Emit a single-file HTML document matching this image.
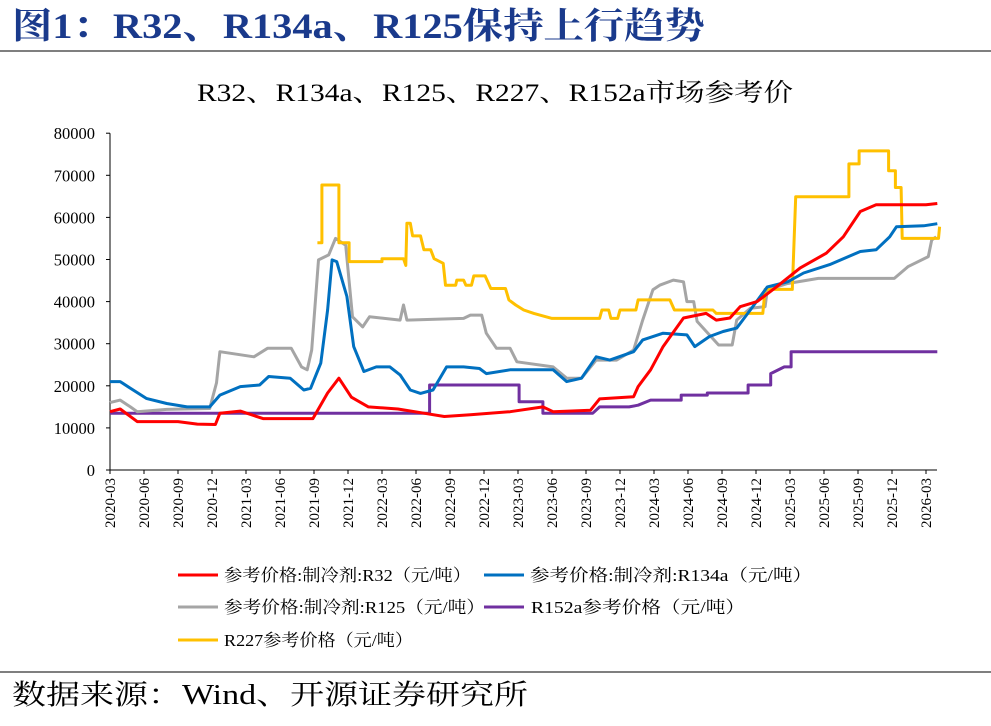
<!DOCTYPE html>
<html><head><meta charset="utf-8"><style>
body{margin:0;background:#fff;width:991px;height:721px;overflow:hidden;font-family:"Liberation Serif","Noto Serif CJK SC",serif}
</style></head><body>
<svg id="chart" width="991" height="721" xmlns="http://www.w3.org/2000/svg">
<text x="12" y="38" font-size="36" font-weight="bold" fill="#1a3a8c" textLength="693" lengthAdjust="spacingAndGlyphs" font-family="Liberation Serif, Noto Serif CJK SC, serif">图1：R32、R134a、R125保持上行趋势</text>
<line x1="0" y1="51" x2="991" y2="51" stroke="#333" stroke-width="1.2"/>
<text x="197" y="101" font-size="25" textLength="596" lengthAdjust="spacingAndGlyphs" fill="#000">R32、R134a、R125、R227、R152a市场参考价</text>
<g id="axes"></g>
<g id="series"></g>
<g id="legend" font-size="17">
<line x1="178" y1="575" x2="218" y2="575" stroke="#ff0000" stroke-width="3"/><text x="224" y="581" textLength="247" lengthAdjust="spacingAndGlyphs">参考价格:制冷剂:R32（元/吨）</text>
<line x1="484" y1="575" x2="524" y2="575" stroke="#0070c0" stroke-width="3"/><text x="530" y="581" textLength="282" lengthAdjust="spacingAndGlyphs">参考价格:制冷剂:R134a（元/吨）</text>
<line x1="178" y1="607" x2="218" y2="607" stroke="#a5a5a5" stroke-width="3"/><text x="224" y="613" textLength="261" lengthAdjust="spacingAndGlyphs">参考价格:制冷剂:R125（元/吨）</text>
<line x1="484" y1="607" x2="524" y2="607" stroke="#7030a0" stroke-width="3"/><text x="531" y="613" textLength="214" lengthAdjust="spacingAndGlyphs">R152a参考价格（元/吨）</text>
<line x1="178" y1="640" x2="218" y2="640" stroke="#ffc000" stroke-width="3"/><text x="224" y="646" textLength="189" lengthAdjust="spacingAndGlyphs">R227参考价格（元/吨）</text>
</g>
<line x1="0" y1="672" x2="991" y2="672" stroke="#333" stroke-width="1.2"/>
<text x="12" y="704" font-size="28" textLength="516" lengthAdjust="spacingAndGlyphs">数据来源：Wind、开源证券研究所</text>
</svg>
<script>
const yTicks=[0,10000,20000,30000,40000,50000,60000,70000,80000];
const xLabels=["2020-03","2020-06","2020-09","2020-12","2021-03","2021-06","2021-09","2021-12","2022-03","2022-06","2022-09","2022-12","2023-03","2023-06","2023-09","2023-12","2024-03","2024-06","2024-09","2024-12","2025-03","2025-06","2025-09","2025-12","2026-03"];
const r32=[[0,13850],[0.9,14500],[2.4,11500],[6,11500],[7.7,10900],[9.3,10800],[9.7,13500],[11.5,14000],[13.5,12200],[17.9,12200],[19.2,18300],[20.2,21800],[21.3,17300],[22.8,15000],[25.4,14500],[27.7,13500],[29.5,12700],[31.8,13100],[35.3,13850],[38.2,15000],[39.1,13850],[42.4,14200],[43.2,16900],[46.2,17400],[46.6,19800],[47.7,23800],[48.8,29300],[50.6,36100],[52.6,37200],[53.5,35600],[54.7,36100],[55.6,38800],[57.1,40000],[58.8,43500],[60.9,48000],[63.2,51500],[64.7,55400],[66.2,61400],[67.6,63000],[72,63000],[73,63300]];
const r134a=[[0,21000],[0.9,21000],[1.8,19400],[3.2,17000],[5,15800],[6.8,15000],[8.8,15000],[9.7,17800],[11.5,19800],[13.2,20200],[14,22200],[15.9,21800],[17.1,19000],[17.7,19400],[18.6,25400],[19.2,38000],[19.6,49900],[20,49500],[20.9,41200],[21.5,29300],[22.4,23400],[23.5,24500],[24.7,24500],[25.6,22600],[26.5,19000],[27.4,18200],[28.5,19000],[29.7,24500],[31.2,24500],[32.6,24100],[33.2,22900],[35.3,23800],[39.1,23800],[40.3,21000],[41.6,21800],[42.9,26900],[44.1,26100],[46.2,28100],[47,30900],[48.8,32500],[50.9,32100],[51.6,29300],[52.9,31700],[54.1,32900],[55.3,33700],[56.5,38000],[58,43500],[59.8,44700],[61.2,46800],[63.5,48800],[66.2,51900],[67.6,52300],[68.8,55400],[69.4,57800],[71.8,58000],[73,58500]];
const r125=[[0,16000],[0.9,16600],[1.8,15000],[2.4,13850],[5,14400],[8.8,14600],[9.4,20700],[9.7,28100],[12.7,26900],[13.9,28900],[16,28900],[16.9,24500],[17.4,23800],[17.8,28500],[18.4,49900],[19.3,51100],[19.9,55000],[20.8,53400],[21.4,36400],[22.3,34000],[22.9,36400],[25.6,35600],[25.9,39200],[26.2,35600],[31.2,36000],[31.8,36800],[32.8,36800],[33.2,32500],[34.1,28900],[35.3,28900],[35.9,25700],[39.1,24500],[40.3,21800],[41.6,21800],[42.9,26100],[44.7,26100],[46.2,28500],[47,35600],[47.9,42800],[48.5,43900],[49.7,45100],[50.6,44700],[50.9,40000],[51.5,40000],[51.8,35300],[53.7,29700],[54.9,29700],[55.3,35600],[56.5,38400],[57.8,38800],[58,42800],[59.8,44300],[62.5,45500],[69.2,45500],[70.4,48300],[72.2,50700],[72.5,54600],[72.9,55400]];
const r152a=[[0,13500],[28.2,13500],[28.2,20200],[36.1,20200],[36.1,16200],[38.2,16200],[38.2,13500],[42.6,13500],[43.2,15000],[45.8,15000],[46.6,15400],[47.7,16600],[50.4,16600],[50.4,17800],[52.7,17800],[52.7,18300],[56.3,18300],[56.3,20200],[58.3,20200],[58.3,22900],[59.5,24500],[60.1,24500],[60.1,28100],[73,28100]];
const r227=[[18.3,54000],[18.7,54000],[18.7,67700],[20.2,67700],[20.2,54000],[21.1,54000],[21.1,49500],[24,49500],[24,50200],[25.9,50200],[26.1,48600],[26.2,58600],[26.5,58600],[26.7,55600],[27.4,55600],[27.7,52300],[28.3,52300],[28.6,50200],[29.4,49100],[29.6,43900],[30.5,43900],[30.6,45100],[31.2,45100],[31.4,43900],[31.9,43900],[32.1,46100],[33.1,46100],[33.6,43100],[34.9,43100],[35.2,40400],[35.8,39200],[36.5,38000],[37.4,37200],[39,36000],[43.2,36000],[43.4,38000],[44,38000],[44.2,36000],[44.8,36000],[45,38000],[46.4,38000],[46.6,40400],[49.4,40400],[49.8,38000],[53.2,38000],[53.5,37200],[57.6,37200],[57.8,42900],[60.2,42900],[60.5,64900],[65.2,64900],[65.2,72700],[66.1,72700],[66.1,75800],[68.7,75800],[68.7,71100],[69.3,71100],[69.3,67100],[69.8,67100],[69.9,55000],[73.1,55000],[73.2,57800]];

const NS="http://www.w3.org/2000/svg";
const X0=110,Y0=470,PXM=34/3,PXV=42.1/10000;
const xs=m=>X0+m*PXM, ys=v=>Y0-v*PXV;
const axes=document.getElementById('axes');
function mk(tag,attrs,parent){const e=document.createElementNS(NS,tag);for(const k in attrs)e.setAttribute(k,attrs[k]);parent.appendChild(e);return e;}
let yl=mk('line',{x1:X0,y1:ys(80000),x2:X0,y2:Y0,stroke:'#000','stroke-width':1},axes);


let xl=mk('line',{x1:X0,y1:Y0,x2:937,y2:Y0,stroke:'#000','stroke-width':1},axes);


yTicks.forEach(v=>{
  mk('line',{x1:X0-4,y1:ys(v),x2:X0,y2:ys(v),stroke:'#000'},axes);
  const t=mk('text',{x:X0-15,y:ys(v)+6,'font-size':16.5,'text-anchor':'end'},axes);
  t.textContent=v;
  
  
});
xLabels.forEach((s,i)=>{
  const x=xs(i*3);
  mk('line',{x1:x,y1:Y0,x2:x,y2:Y0+4,stroke:'#000'},axes);
  const t=mk('text',{x:0,y:0,'font-size':15,'text-anchor':'end',transform:`translate(${x+5},${Y0+8}) rotate(-90)`},axes);
  t.textContent=s;
  
  
});
const sg=document.getElementById('series');
[[r152a,'#7030a0','series-r152a'],[r125,'#a5a5a5','series-r125'],[r227,'#ffc000','series-r227'],[r134a,'#0070c0','series-r134a'],[r32,'#ff0000','series-r32']].forEach(([d,c,n])=>{
  const p=mk('polyline',{points:d.map(q=>xs(q[0]).toFixed(1)+','+ys(q[1]).toFixed(1)).join(' '),fill:'none',stroke:c,'stroke-width':3,'stroke-linejoin':'round'},sg);
  
  
});
</script>
</body></html>
